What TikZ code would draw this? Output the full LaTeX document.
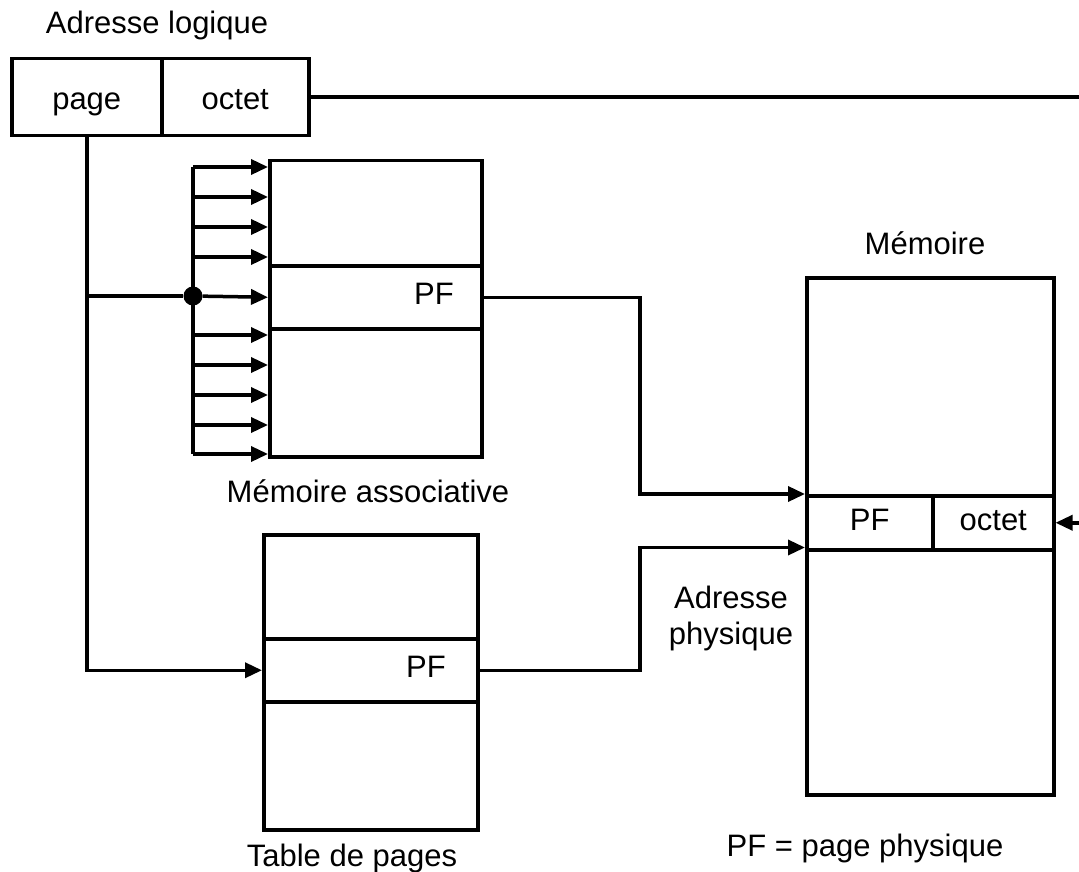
\documentclass[tikz,border=0pt]{standalone}
\usepackage{fontspec}
\setmainfont{Liberation Sans}
\usetikzlibrary{arrows.meta,calc}
\tikzset{
  cell/.style={draw, line width=3.5pt, inner sep=0pt, anchor=north west, text height=22pt, text depth=7pt},
  pfcell/.style={cell, align=right, inner xsep=28pt},
  conn/.style={line width=3.5pt},
  arr/.style={conn, -{Triangle[length=17pt,width=15pt]}},
  lbl/.style={inner sep=0pt, align=center}
}
\begin{document}
\begin{tikzpicture}[x=1pt,y=-1pt,font=\fontsize{31}{36}\selectfont]
\useasboundingbox (0,0) rectangle (1079,872);
% logical address
\node[lbl] (tal) at (157,25) {Adresse logique};
\node[cell, text height=24pt, text depth=0pt, minimum width=150pt, minimum height=77pt] (lp) at (10,57) {page};
\node[cell, text height=24pt, text depth=0pt, minimum width=147pt, minimum height=77pt] (lo) at (160,57) {octet};
% associative memory
\node[cell, minimum width=212pt, minimum height=105pt] (am1) at (268,159) {};
\node[pfcell, text width=156pt, minimum height=63pt] (amp) at (268,264) {PF};
\node[cell, minimum width=212pt, minimum height=128pt] (am3) at (268,327) {};
\node[lbl] (tam) at (368,491) {Mémoire associative};
% page table
\node[cell, minimum width=214pt, minimum height=104pt] (tp1) at (262,533) {};
\node[pfcell, inner xsep=32pt, text width=150pt, minimum height=63pt] (tpp) at (262,637) {PF};
\node[cell, minimum width=214pt, minimum height=128pt] (tp3) at (262,700) {};
\node[lbl] (ttp) at (352,858) {Table de pages};
% memory
\node[lbl] (tm) at (925,243) {Mémoire};
\node[cell, minimum width=247pt, minimum height=218pt] (m1) at (805,276) {};
\node[cell, minimum width=126pt, minimum height=54pt] (mpf) at (805,494) {PF};
\node[cell, minimum width=121pt, minimum height=54pt] (mo) at (931,494) {octet};
\node[cell, minimum width=247pt, minimum height=245pt] (m3) at (805,548) {};
\node[lbl] (tap) at (731,618) {Adresse\\physique};
\node[lbl] (tleg) at (865,848) {PF = page physique};
% bus
\coordinate (j1) at (640,0);
\coordinate (r) at (1086,0);
\coordinate (b1) at (193,167);
\coordinate (b2) at (193,197);
\coordinate (b3) at (193,227);
\coordinate (b4) at (193,257);
\coordinate (b6) at (193,335);
\coordinate (b7) at (193,365);
\coordinate (b8) at (193,395);
\coordinate (b9) at (193,425);
\coordinate (b10) at (193,454);
\node[circle, fill, inner sep=0pt, minimum size=19pt] (dot) at (193,296) {};
\draw[conn] (b1) -- (b10);
\foreach \b in {b1,b2,b3,b4}{\draw[arr] (\b) -- (\b -| am1.west);}
\foreach \b in {b6,b7,b8,b9,b10}{\draw[arr] (\b) -- (\b -| am3.west);}
\draw[arr] (dot) -- (amp.west);
% page line
\draw[arr] (lp.south) |- (tpp.west);
\draw[conn] (lp.south |- dot) -- (dot);
% to memory
\draw[arr] (amp.east) -- (amp.east -| j1) -- (j1 |- mpf.north west) -- (mpf.north west);
\draw[arr] (tpp.east) -- (tpp.east -| j1) -- ($(j1 |- mpf.south west)+(0,-4)$) -- ($(mpf.south west)+(0,-4)$);
\draw[arr] (lo.east) -- (lo.east -| r) -- (r |- mo.east) -- (mo.east);
\end{tikzpicture}
\end{document}
